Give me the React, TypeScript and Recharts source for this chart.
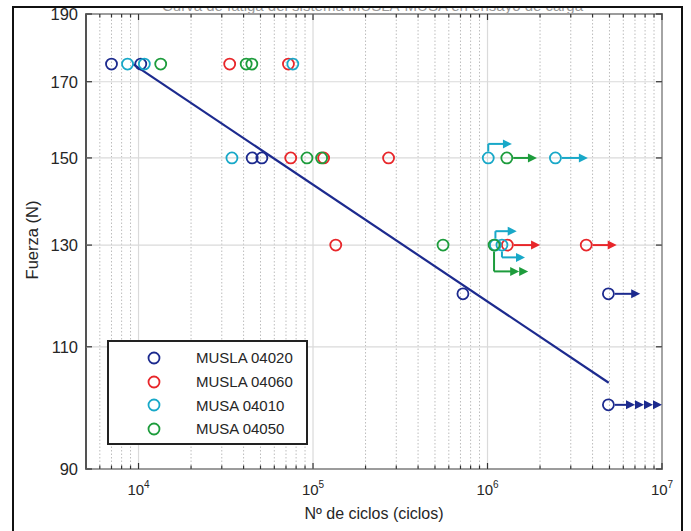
import {
  ScatterChart,
  Scatter,
  XAxis,
  YAxis,
  ReferenceLine,
  ReferenceArea,
  Legend,
} from 'recharts';

// Fatigue test results: cycles (x) vs force in N (y)
const musla04020Cycles = [7000, 10300, 44800, 50900, 723000, 4930000, 4930000];
const musla04020Force = [175, 175, 150, 150, 120, 120, 100];

const musla04060Cycles = [33300, 72300, 74500, 115000, 271000, 135000, 1300000, 3680000];
const musla04060Force = [175, 175, 150, 150, 150, 130, 130, 130];

const musa04010Cycles = [8650, 10800, 76600, 34300, 1010000, 2450000, 1110000, 1210000];
const musa04010Force = [175, 175, 175, 150, 150, 150, 130, 130];

const musa04050Cycles = [13400, 41400, 44600, 92300, 112000, 1290000, 556000, 1090000];
const musa04050Force = [175, 175, 175, 150, 150, 150, 130, 130];

// fitted S-N line
const fitCycles = [9300, 4950000];
const fitForce = [175, 103.7];

// runouts (tests stopped without failure): path in data coords, number of heads
const runouts = [
  { color: 'cyan', path: [[1010000, 150], [1010000, 153.5], [1380000, 153.5]], heads: 1 },
  { color: 'green', path: [[1290000, 150], [1920000, 150]], heads: 1 },
  { color: 'cyan', path: [[2450000, 150], [3760000, 150]], heads: 1 },
  { color: 'red', path: [[1300000, 130], [2000000, 130]], heads: 1 },
  { color: 'red', path: [[3680000, 130], [5500000, 130]], heads: 1 },
  { color: 'cyan', path: [[1110000, 130], [1110000, 133], [1470000, 133]], heads: 1 },
  { color: 'cyan', path: [[1210000, 130], [1210000, 127.4], [1640000, 127.4]], heads: 1 },
  { color: 'green', path: [[1090000, 130], [1090000, 124.5], [1710000, 124.5]], heads: 2 },
  { color: 'blue', path: [[4930000, 120], [7500000, 120]], heads: 1 },
  { color: 'blue', path: [[4930000, 100], [10000000, 100]], heads: 4 },
];

const xMajor = [10000, 100000, 1000000, 10000000];
const xMinor = [
  6000, 7000, 8000, 9000,
  20000, 30000, 40000, 50000, 60000, 70000, 80000, 90000,
  200000, 300000, 400000, 500000, 600000, 700000, 800000, 900000,
  2000000, 3000000, 4000000, 5000000, 6000000, 7000000, 8000000, 9000000,
];
const yTicks = [90, 110, 130, 150, 170, 190];

const colors: Record<string, string> = {
  blue: '#1c2a8e',
  red: '#e8262a',
  cyan: '#18a8c8',
  green: '#1d9c3c',
};

const series = [
  { name: 'MUSLA 04020', color: 'blue', cycles: musla04020Cycles, force: musla04020Force },
  { name: 'MUSLA 04060', color: 'red', cycles: musla04060Cycles, force: musla04060Force },
  { name: 'MUSA 04010', color: 'cyan', cycles: musa04010Cycles, force: musa04010Force },
  { name: 'MUSA 04050', color: 'green', cycles: musa04050Cycles, force: musa04050Force },
];

const toPoints = (xs: number[], ys: number[]) => xs.map((x, i) => ({ x, y: ys[i] }));

const FONT = "'Liberation Sans', Arial, Helvetica, sans-serif";
const TEXT = '#262626';
const PLOT_TOP = 14;
const PLOT_RIGHT = 662;
const R = 5.5;

const XTick = (props: any) => {
  const { x, y, payload } = props;
  const v = payload.value;
  const major = xMajor.includes(v);
  const len = major ? 6 : 3.5;
  const exp = Math.round(Math.log10(v));
  return (
    <g>
      <line x1={x} y1={y} x2={x} y2={y - len} stroke="#333" strokeWidth={1.2} />
      <line x1={x} y1={PLOT_TOP} x2={x} y2={PLOT_TOP + len} stroke="#333" strokeWidth={1.2} />
      {major && (
        <text x={x} y={y + 26} textAnchor="middle" fontFamily={FONT} fontSize={15} fill={TEXT}>
          <tspan>10</tspan>
          <tspan dy={-7} fontSize={10}>{exp}</tspan>
        </text>
      )}
    </g>
  );
};

const YTick = (props: any) => {
  const { x, y, payload } = props;
  return (
    <g>
      <line x1={x} y1={y} x2={x + 6} y2={y} stroke="#333" strokeWidth={1.2} />
      <line x1={PLOT_RIGHT} y1={y} x2={PLOT_RIGHT - 6} y2={y} stroke="#333" strokeWidth={1.2} />
      <text x={x - 8} y={y + 6} textAnchor="end" fontFamily={FONT} fontSize={16.5} fill={TEXT}>
        {payload.value}
      </text>
    </g>
  );
};

const arrowShape = (trim: number, heads: number, color: string) => (p: any) => {
  const { x1, y1, x2, y2 } = p;
  if (![x1, y1, x2, y2].every((n) => typeof n === 'number' && isFinite(n))) return <g />;
  const dx = x2 - x1;
  const dy = y2 - y1;
  const len = Math.hypot(dx, dy) || 1;
  const ux = dx / len;
  const uy = dy / len;
  const HL = 9;
  const HW = 4.5;
  const endLen = heads ? len - HL * heads + 1 : len;
  const tris = [];
  for (let i = 0; i < heads; i++) {
    const tx = x2 - ux * HL * i;
    const ty = y2 - uy * HL * i;
    const bx = tx - ux * HL;
    const by = ty - uy * HL;
    tris.push(
      <polygon
        key={i}
        points={`${tx},${ty} ${bx - uy * HW},${by + ux * HW} ${bx + uy * HW},${by - ux * HW}`}
        fill={color}
      />
    );
  }
  return (
    <g>
      <line
        x1={x1 + ux * trim}
        y1={y1 + uy * trim}
        x2={x1 + ux * endLen}
        y2={y1 + uy * endLen}
        stroke={color}
        strokeWidth={2}
      />
      {tris}
    </g>
  );
};

const renderLegend = () => (
  <div
    style={{
      boxSizing: 'border-box',
      width: 201,
      height: 105,
      border: '2px solid #222',
      background: '#fff',
      paddingTop: 4,
      fontFamily: FONT,
      fontSize: 15,
      color: TEXT,
    }}
  >
    {series.map((s) => (
      <div key={s.name} style={{ display: 'flex', alignItems: 'center', height: 23.7 }}>
        <svg width={14} height={14} style={{ marginLeft: 38 }}>
          <circle cx={7} cy={7} r={R} fill="none" stroke={colors[s.color]} strokeWidth={1.8} />
        </svg>
        <span style={{ marginLeft: 35 }}>{s.name}</span>
      </div>
    ))}
  </div>
);

export default function App() {
  return (
    <div style={{ position: 'relative', width: 691, height: 531, overflow: 'hidden', background: '#fff' }}>
      <style>{'body{margin:0}'}</style>
      {/* title, mostly hidden behind the frame as in the source figure */}
      <div style={{ position: 'absolute', left: 0, top: 8, width: 691, height: 5, overflow: 'hidden' }}>
        <div
          style={{
            position: 'absolute',
            left: 0,
            width: 745,
            top: -11,
            textAlign: 'center',
            fontFamily: FONT,
            fontSize: 15,
            color: '#9a9a9a',
            whiteSpace: 'nowrap',
          }}
        >
          Curva de fatiga del sistema MUSLA-MUSA en ensayo de carga
        </div>
      </div>
      <ScatterChart width={691} height={531} margin={{ top: PLOT_TOP, right: 29, bottom: 61, left: 85 }}>
        {xMinor.map((v) => (
          <ReferenceLine key={'mx' + v} x={v} stroke="#bdbdbd" strokeDasharray="1.5 2" ifOverflow="visible" />
        ))}
        {xMajor.map((v) => (
          <ReferenceLine key={'Mx' + v} x={v} stroke="#dadada" strokeWidth={1.2} ifOverflow="visible" />
        ))}
        {yTicks.map((v) => (
          <ReferenceLine key={'y' + v} y={v} stroke="#dadada" strokeWidth={1.2} ifOverflow="visible" />
        ))}
        <XAxis
          dataKey="x"
          type="number"
          scale="log"
          domain={[5000, 10000000]}
          allowDataOverflow
          ticks={[...xMinor, ...xMajor]}
          interval={0}
          tickSize={0}
          tickMargin={0}
          tickLine={false}
          axisLine={false}
          height={1}
          tick={XTick}
          label={{
            content: () => (
              <text x={374} y={519} textAnchor="middle" fontFamily={FONT} fontSize={16} fill={TEXT}>
                Nº de ciclos (ciclos)
              </text>
            ),
          }}
        />
        <YAxis
          dataKey="y"
          type="number"
          scale="log"
          domain={[90, 190]}
          allowDataOverflow
          ticks={yTicks}
          interval={0}
          tickSize={0}
          tickMargin={0}
          tickLine={false}
          axisLine={false}
          width={1}
          tick={YTick}
          label={{
            content: () => (
              <text
                x={32}
                y={240}
                textAnchor="middle"
                transform="rotate(-90 32 240)"
                dominantBaseline="central"
                fontFamily={FONT}
                fontSize={16.5}
                fill={TEXT}
              >
                Fuerza (N)
              </text>
            ),
          }}
        />
        <ReferenceArea
          x1={5000}
          x2={10000000}
          y1={90}
          y2={190}
          fill="none"
          stroke="#2a2a2a"
          strokeWidth={1.6}
          ifOverflow="visible"
        />
        <Scatter
          name="fit"
          data={toPoints(fitCycles, fitForce)}
          line={{ stroke: colors.blue, strokeWidth: 2.2 }}
          shape={() => <g />}
          legendType="none"
          isAnimationActive={false}
        />
        {runouts.flatMap((r, ri) =>
          r.path.slice(1).map((pt, si) => {
            const prev = r.path[si];
            const last = si === r.path.length - 2;
            return (
              <ReferenceLine
                key={`r${ri}-${si}`}
                segment={[
                  { x: prev[0], y: prev[1] },
                  { x: pt[0], y: pt[1] },
                ]}
                ifOverflow="visible"
                shape={arrowShape(si === 0 ? R + 0.9 : 0, last ? r.heads : 0, colors[r.color])}
              />
            );
          })
        )}
        {series.map((s) => (
          <Scatter
            key={s.name}
            name={s.name}
            data={toPoints(s.cycles, s.force)}
            fill={colors[s.color]}
            isAnimationActive={false}
            shape={(p: any) => (
              <circle cx={p.cx} cy={p.cy} r={R} fill="none" stroke={colors[s.color]} strokeWidth={1.8} />
            )}
          />
        ))}
        <Legend
          layout="horizontal"
          verticalAlign="middle"
          align="center"
          wrapperStyle={{ left: 107, top: 340, width: 201, height: 105 }}
          content={renderLegend}
        />
      </ScatterChart>
      {/* outer frame of the figure */}
      <div
        style={{
          position: 'absolute',
          left: 12,
          top: 6,
          width: 671,
          height: 560,
          border: '2px solid #111',
          boxSizing: 'border-box',
          pointerEvents: 'none',
        }}
      />
    </div>
  );
}
